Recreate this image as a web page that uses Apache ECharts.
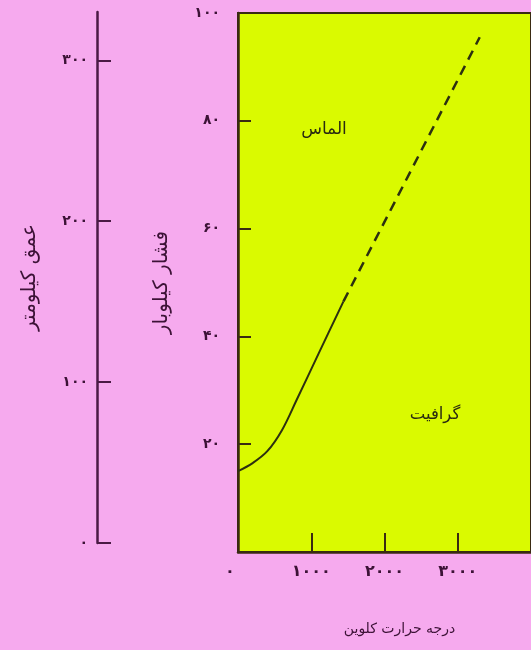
<!DOCTYPE html>
<html>
<head>
<meta charset="utf-8">
<script src="https://cdn.jsdelivr.net/npm/echarts@6/dist/echarts.min.js"></script>
<style>
  html, body { margin: 0; padding: 0; background: #f6aaee; }
  #chart { width: 531px; height: 650px; }
</style>
</head>
<body>
<div id="chart"></div>
<script>
// Graphite–diamond phase boundary: pressure (kbar) against temperature (K)
const temperatureTicks = [0, 1000, 2000, 3000];
const pressureTicks = [20, 40, 60, 80, 100];
const depthTicks = [0, 100, 200, 300];

// measured part of the boundary (solid)
const boundaryMeasured = [
  [0, 15.0], [200, 16.5], [400, 18.7], [600, 22.6],
  [800, 28.2], [1100, 36.8], [1440, 46.5]
];
// extrapolated part of the boundary (dashed)
const boundaryExtrapolated = [[1440, 46.5], [3300, 95.5]];

const axisTitleTemp = 'درجه حرارت کلوین';
const axisTitlePressure = 'فشار کیلوبار';
const axisTitleDepth = 'عمق کیلومتر';
const regionDiamond = 'الماس';
const regionGraphite = 'گرافیت';

const faDigits = '۰۱۲۳۴۵۶۷۸۹';
function toFa(n) {
  return String(n).replace(/[0-9]/g, d => faDigits[+d]);
}

const FONT = 'DejaVu Sans';
const labelColor = '#3c1236';
const frameColor = '#3a2a12';
const lineColor = '#2c3010';

const chart = echarts.init(document.getElementById('chart'), null, { renderer: 'canvas' });

chart.setOption({
  backgroundColor: '#f6aaee',
  animation: false,
  grid: [
    { left: 238, top: 13, right: -13, bottom: 98, show: true,
      backgroundColor: '#dafa00', borderColor: frameColor, borderWidth: 2 },
    { left: 97, top: 12, width: 1, bottom: 107, show: false }
  ],
  xAxis: [
    {
      gridIndex: 0, type: 'value', min: 0, max: 4000, interval: 1000,
      name: axisTitleTemp, nameLocation: 'middle', nameGap: 70,
      nameTextStyle: { fontFamily: FONT, fontSize: 14, color: labelColor, padding: [0, 0, 0, 30] },
      axisLine: { show: true, onZero: false, lineStyle: { color: frameColor, width: 2.5 } },
      axisTick: { show: true, inside: true, length: 19, customValues: [1000, 2000, 3000],
        lineStyle: { color: frameColor, width: 2 } },
      axisLabel: {
        show: true, margin: 12, customValues: temperatureTicks,
        fontFamily: FONT, fontSize: 16, fontWeight: 'bold', color: labelColor,
        formatter: v => v === 0 ? '{z|' + toFa(v) + '}' : toFa(v),
        rich: { z: { fontFamily: FONT, fontSize: 16, fontWeight: 'bold', color: labelColor, padding: [0, 16, 0, 0] } }
      },
      splitLine: { show: false }
    },
    {
      gridIndex: 1, type: 'value', min: 0, max: 1, show: false
    }
  ],
  yAxis: [
    {
      gridIndex: 0, type: 'value', min: 0, max: 100, interval: 20,
      name: axisTitlePressure, nameLocation: 'middle', nameGap: 66,
      nameTextStyle: { fontFamily: FONT, fontSize: 20, color: labelColor },
      axisLine: { show: true, lineStyle: { color: frameColor, width: 2.5 } },
      axisTick: { show: true, inside: true, length: 13, customValues: pressureTicks,
        lineStyle: { color: frameColor, width: 2 } },
      axisLabel: {
        show: true, margin: 18, customValues: pressureTicks,
        fontFamily: FONT, fontSize: 14, fontWeight: 'bold', color: labelColor,
        formatter: v => toFa(v)
      },
      splitLine: { show: false }
    },
    {
      gridIndex: 1, type: 'value', min: 0, max: 330,
      name: axisTitleDepth, nameLocation: 'middle', nameGap: 57,
      nameTextStyle: { fontFamily: FONT, fontSize: 20, color: labelColor },
      axisLine: { show: true, lineStyle: { color: '#4a1a44', width: 2.5 } },
      axisTick: { show: true, inside: true, length: 14, customValues: depthTicks,
        lineStyle: { color: '#4a1a44', width: 2 } },
      axisLabel: {
        show: true, margin: 9, customValues: depthTicks,
        fontFamily: FONT, fontSize: 14, fontWeight: 'bold', color: labelColor,
        formatter: v => toFa(v)
      },
      splitLine: { show: false }
    }
  ],
  series: [
    {
      type: 'line', xAxisIndex: 0, yAxisIndex: 0,
      data: boundaryMeasured, smooth: 0.35, symbol: 'none',
      lineStyle: { color: lineColor, width: 2 }
    },
    {
      type: 'line', xAxisIndex: 0, yAxisIndex: 0,
      data: boundaryExtrapolated, symbol: 'none',
      lineStyle: { color: lineColor, width: 2.5, type: [10, 7], dashOffset: 0 }
    }
  ],
  graphic: [
    { type: 'text', x: 324, y: 130,
      style: { text: regionDiamond, fontFamily: FONT, fontSize: 17, fill: '#2a2a10',
        align: 'center', verticalAlign: 'middle' } },
    { type: 'text', x: 435, y: 415,
      style: { text: regionGraphite, fontFamily: FONT, fontSize: 16.5, fill: '#2a2a10',
        align: 'center', verticalAlign: 'middle' } }
  ]
});
</script>
</body>
</html>
